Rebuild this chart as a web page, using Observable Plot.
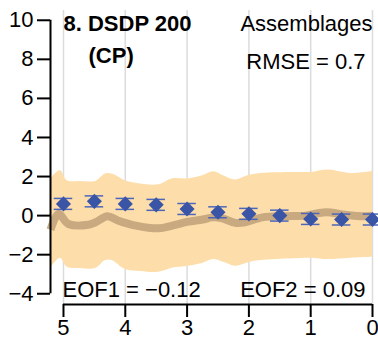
<!DOCTYPE html>
<html>
<head>
<meta charset="utf-8">
<script src="https://cdn.jsdelivr.net/npm/d3@7"></script>
<script src="https://cdn.jsdelivr.net/npm/@observablehq/plot@0.6"></script>
<style>
  body { margin: 0; background: #fff; }
</style>
</head>
<body>
<div id="chart"></div>
<script>
// Axis ticks (age in Ma, reversed; anomaly on y)
const ageTicks = [5, 4, 3, 2, 1, 0];
const valueTicks = [-4, -2, 0, 2, 4, 6, 8, 10];

// Assemblage reconstruction: points with ±1σ error bars
const pointAge = [5, 4.5, 4, 3.5, 3, 2.5, 2, 1.5, 1, 0.5, 0];
const pointValue = [0.6, 0.73, 0.6, 0.55, 0.34, 0.17, 0.09, 0.0, -0.17, -0.2, -0.2];
const pointErr = [0.28, 0.28, 0.28, 0.28, 0.28, 0.28, 0.28, 0.28, 0.28, 0.28, 0.28];

// EOF-based curve
const curveAge = [5.21, 5.08, 4.92, 4.6, 4.48, 4.29, 4.11, 3.83, 3.46, 3.24, 2.98, 2.75, 2.59, 2.43, 2.22, 2.06, 1.78, 1.41, 1.08, 0.76, 0.44, 0.16, 0.0];
const curveValue = [-0.72, 0.09, -0.43, -0.47, -0.34, -0.03, -0.26, -0.51, -0.65, -0.51, -0.31, -0.2, -0.09, -0.14, -0.37, -0.34, -0.09, -0.03, 0.0, 0.17, 0.04, -0.03, 0.0];

// Uncertainty envelope around the curve
const bandAge = [5.21, 5.05, 4.94, 4.72, 4.48, 4.32, 4.21, 4.0, 3.75, 3.46, 3.24, 2.98, 2.75, 2.57, 2.41, 2.22, 2.02, 1.81, 1.28, 1.0, 0.71, 0.36, 0.0];
const bandLow = [-2.71, -2.18, -2.64, -2.71, -2.71, -2.3, -2.3, -2.76, -2.86, -2.9, -2.69, -2.59, -2.45, -2.25, -2.39, -2.59, -2.42, -2.3, -2.21, -2.18, -2.25, -2.18, -2.13];
const bandHigh = [1.88, 2.3, 1.79, 1.75, 1.75, 2.13, 2.13, 1.79, 1.62, 1.58, 1.88, 1.88, 2.04, 2.25, 2.04, 1.82, 2.04, 2.16, 2.21, 2.21, 2.34, 2.16, 2.26];

const points = pointAge.map((a, i) => ({age: a, value: pointValue[i], err: pointErr[i]}));
const curve = curveAge.map((a, i) => ({age: a, value: curveValue[i]}));
const band = bandAge.map((a, i) => ({age: a, lo: bandLow[i], hi: bandHigh[i]}));

const xDomain = [5.21, 0];
const yDomain = [-4.55, 10.5];
const capHalf = 0.15; // half-width of error-bar caps, in Ma

const blue = "#3a54a6";
const barBlue = "#4d66b8";

const chart = Plot.plot({
  width: 378,
  height: 341,
  marginTop: 10,
  marginRight: 6,
  marginBottom: 37,
  marginLeft: 50,
  style: {fontFamily: "'Liberation Sans', Arial, Helvetica, sans-serif", fontSize: "22px", color: "#000", background: "#fff"},
  x: {domain: xDomain},
  y: {domain: yDomain},
  marks: [
    Plot.gridX(ageTicks, {stroke: "#dcdcdc", strokeOpacity: 1, strokeWidth: 1.5}),
    Plot.areaY(band, {x: "age", y1: "lo", y2: "hi", fill: "#fddeab", curve: "catmull-rom"}),
    Plot.line(curve, {x: "age", y: "value", stroke: "#c9a97f", strokeWidth: 8, curve: "catmull-rom", strokeLinecap: "butt"}),
    // error bars
    Plot.ruleX(points, {x: "age", y1: d => d.value - d.err, y2: d => d.value + d.err, stroke: barBlue, strokeWidth: 1.5}),
    Plot.ruleY(points, {y: d => d.value - d.err, x1: d => d.age + capHalf, x2: d => d.age - capHalf, stroke: barBlue, strokeWidth: 1.5}),
    Plot.ruleY(points, {y: d => d.value + d.err, x1: d => d.age + capHalf, x2: d => d.age - capHalf, stroke: barBlue, strokeWidth: 1.5}),
    Plot.dot(points, {x: "age", y: "value", symbol: "diamond2", r: 6.8, fill: blue, stroke: "none"}),
    // axis lines
    Plot.ruleX([xDomain[0]], {y1: valueTicks[0], y2: valueTicks[valueTicks.length - 1], stroke: "#000", strokeWidth: 2}),
    Plot.ruleY([yDomain[0]], {x1: ageTicks[0], x2: ageTicks[ageTicks.length - 1], stroke: "#000", strokeWidth: 2}),
    Plot.axisY(valueTicks, {tickSize: 13, tickPadding: 4, strokeWidth: 2, label: null, tickFormat: d => d < 0 ? "\u2212" + Math.abs(d) : String(d)}),
    Plot.axisX(ageTicks, {tickSize: 13, tickPadding: 2, strokeWidth: 2, label: null, tickFormat: d => String(d)}),
    // annotations
    Plot.text(["8. DSDP 200"], {frameAnchor: "top-left", textAnchor: "start", lineAnchor: "top", dx: 13, dy: 5, fontWeight: "bold"}),
    Plot.text(["(CP)"], {frameAnchor: "top-left", textAnchor: "start", lineAnchor: "top", dx: 38, dy: 37, fontWeight: "bold"}),
    Plot.text(["Assemblages"], {frameAnchor: "top-right", textAnchor: "end", lineAnchor: "top", dx: 0, dy: 5}),
    Plot.text(["RMSE = 0.7"], {frameAnchor: "top-right", textAnchor: "end", lineAnchor: "top", dx: -7, dy: 43}),
    Plot.text(["EOF1 = \u22120.12"], {frameAnchor: "bottom-left", textAnchor: "start", lineAnchor: "bottom", dx: 12, dy: -8}),
    Plot.text(["EOF2 = 0.09"], {frameAnchor: "bottom-right", textAnchor: "end", lineAnchor: "bottom", dx: -7, dy: -8})
  ]
});

document.getElementById("chart").appendChild(chart);
</script>
</body>
</html>
